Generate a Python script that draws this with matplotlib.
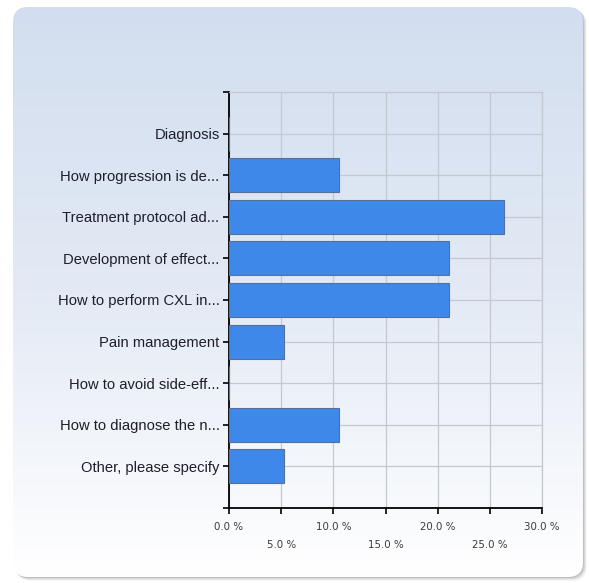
import numpy as np
import matplotlib
matplotlib.use("Agg")
import matplotlib.pyplot as plt
from matplotlib.patches import FancyBboxPatch
from matplotlib.colors import LinearSegmentedColormap

# Survey answers (percent of respondents)
categories = [
    "Diagnosis",
    "How progression is de...",
    "Treatment protocol ad...",
    "Development of effect...",
    "How to perform CXL in...",
    "Pain management",
    "How to avoid side-eff...",
    "How to diagnose the n...",
    "Other, please specify",
]
percent = [0.0, 10.53, 26.32, 21.05, 21.05, 5.26, 0.0, 10.53, 5.26]
x_ticks = [0, 5, 10, 15, 20, 25, 30]
x_tick_labels = ["0.0 %", "\n5.0 %", "10.0 %", "\n15.0 %", "20.0 %", "\n25.0 %", "30.0 %"]

W, H = 589, 583
fig = plt.figure(figsize=(W / 100, H / 100), dpi=100)
fig.patch.set_facecolor("white")

# Background panel with vertical gradient and soft shadow
bg = fig.add_axes([0, 0, 1, 1], zorder=-10)
px0, py0, px1, py1 = 13, 7, 583, 577
rad = 15

cmap = LinearSegmentedColormap.from_list("panel", ["#d2deef", "#e3eaf5", "#ffffff"])
grad = np.linspace(0, 1, 256).reshape(-1, 1)
im = bg.imshow(grad, extent=[px0, px1, py1, py0], cmap=cmap, aspect="auto",
               origin="upper", interpolation="bilinear", zorder=5)

for off, a in [(4, 0.06), (3, 0.10), (2, 0.16), (1, 0.22)]:
    sh = FancyBboxPatch((px0 + rad + off, py0 + rad + off),
                        (px1 - px0) - 2 * rad, (py1 - py0) - 2 * rad,
                        boxstyle=f"round,pad={rad}", fc=(0.45, 0.45, 0.45, a),
                        ec="none", zorder=1)
    bg.add_patch(sh)

panel = FancyBboxPatch((px0 + rad, py0 + rad), (px1 - px0) - 2 * rad,
                       (py1 - py0) - 2 * rad, boxstyle=f"round,pad={rad}",
                       fc="none", ec="none", zorder=6)
bg.add_patch(panel)
im.set_clip_path(panel)

bg.set_xlim(0, W)
bg.set_ylim(H, 0)
bg.axis("off")

# Chart area
left, right, top, bottom = 229, 542, 92, 508
ax = fig.add_axes([left / W, 1 - bottom / H, (right - left) / W, (bottom - top) / H])
ax.patch.set_alpha(0)

y = np.arange(len(categories))
ax.barh(y, percent, height=0.82, color="#3e88ea", edgecolor="#56709a",
        linewidth=0.8, zorder=3)

ax.set_xlim(0, 30)
ax.set_ylim(len(categories), -1)
ax.set_yticks(y)
ax.set_yticklabels(categories, fontsize=10.6, family="Liberation Sans", color="#1e1e2a")
ax.set_yticks([-1, len(categories)], minor=True)
ax.set_xticks(x_ticks)
ax.set_xticklabels(x_tick_labels, fontsize=7.4, family="DejaVu Sans", color="#3a3a3a",
                   linespacing=1.9)

grid_c = "#c4c8d0"
ax.grid(True, which="major", color=grid_c, linewidth=0.9, zorder=0)
ax.set_axisbelow(True)
for s in ("top", "right"):
    ax.spines[s].set_color(grid_c)
    ax.spines[s].set_linewidth(0.9)
for s in ("left", "bottom"):
    ax.spines[s].set_color("black")
    ax.spines[s].set_linewidth(1.3)

ax.tick_params(axis="y", which="both", length=4.3, width=1.2, color="black", pad=2.5)
ax.tick_params(axis="x", which="major", length=4.3, width=1.2, color="black", pad=6)

fig.savefig("out.png", dpi=100)
